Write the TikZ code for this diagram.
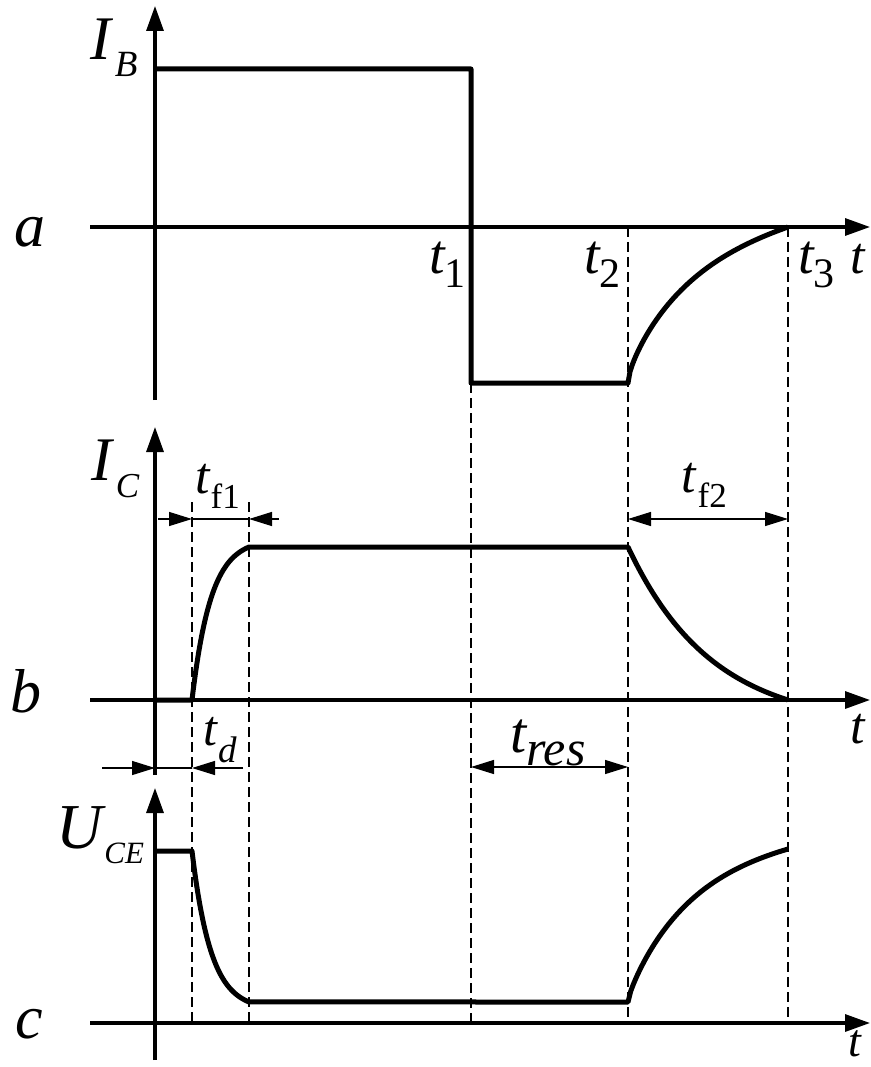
\documentclass[tikz,border=0pt]{standalone}
\usepackage{fontspec}
\setmainfont{Liberation Serif}
\usetikzlibrary{arrows.meta}
\newcommand\mysz[1]{\fontsize{#1}{#1}\selectfont}
\begin{document}
\begin{tikzpicture}[x=1pt,y=-1pt,
  axisline/.style={line width=3.2pt,-{Triangle[length=25pt,width=17pt]}},
  curve/.style={line width=5pt,line join=round},
  guide/.style={line width=1.1pt,dash pattern=on 10pt off 5pt},
  dimline/.style={line width=1.3pt},
  dimarrow/.style={line width=1.3pt,-{Triangle[length=23pt,width=14pt]}},
  dimboth/.style={line width=1.3pt,{Triangle[length=23pt,width=14pt]}-{Triangle[length=23pt,width=14pt]}},
  lbl/.style={inner sep=0pt,anchor=base west}]
\useasboundingbox (0,0) rectangle (870,1067);

% ---------- coordinates ----------
\coordinate (aL) at (90,227);  \coordinate (aR) at (870,227);
\coordinate (bL) at (90,700);  \coordinate (bR) at (870,700);
\coordinate (cL) at (90,1023); \coordinate (cR) at (870,1023);
\coordinate (aB) at (155,400); \coordinate (aT) at (155,6);
\coordinate (bB) at (155,775); \coordinate (bT) at (155,427);
\coordinate (cB) at (155,1060); \coordinate (cT) at (155,788);

% ---------- guide lines ----------
\coordinate (g1a) at (471,383);  \coordinate (g1b) at (471,1023);
\coordinate (g2a) at (628,227);  \coordinate (g2b) at (628,1023);
\coordinate (g3a) at (788,227);  \coordinate (g3b) at (788,1023);
\coordinate (gda) at (192,502);  \coordinate (gdb) at (192,1023);
\coordinate (gfa) at (249,502);  \coordinate (gfb) at (249,1023);
\draw[guide] (g1a) -- (g1b);
\draw[guide] (g2a) -- (g2b);
\draw[guide] (g3a) -- (g3b);
\draw[guide] (gda) -- (gdb);
\draw[guide] (gfa) -- (gfb);

% ---------- axes ----------
\draw[axisline] (aL) -- (aR);
\draw[axisline] (bL) -- (bR);
\draw[axisline] (cL) -- (cR);
\draw[axisline] (aB) -- (aT);
\draw[axisline] (bB) -- (bT);
\draw[axisline] (cB) -- (cT);

% ---------- waveforms ----------
\draw[curve] (155,69) -- (471,69) -- (471,383) -- (628,383)
  -- plot[domain=0:1,samples=80,variable=\u] ({628+160*\u},{383-156*(0.5*sqrt(\u)+0.5*(1-exp(-2.5*\u))/(1-exp(-2.5)))});
\draw[curve] (155,700) -- (192,700)
  -- plot[domain=0:1,samples=50,variable=\u] ({192+57*\u},{700-153*(1-exp(-3*\u))/(1-exp(-3))})
  -- (628,547)
  -- plot[domain=0:1,samples=60,variable=\u] ({628+160*\u},{547+153*(1-exp(-1.9*\u))/(1-exp(-1.9))});
\draw[curve] (155,851) -- (192,851)
  -- plot[domain=0:1,samples=50,variable=\u] ({192+57*\u},{851+151*(1-exp(-3*\u))/(1-exp(-3))})
  -- (628,1002)
  -- plot[domain=0:1,samples=60,variable=\u] ({628+160*\u},{1002-153*(0.3*sqrt(\u)+0.7*(1-exp(-2.5*\u))/(1-exp(-2.5)))});

% ---------- dimension markers ----------
\coordinate (f1L) at (158,519); \coordinate (f1a) at (192,519);
\coordinate (f1b) at (249,519); \coordinate (f1R) at (279,519);
\draw[dimarrow] (f1L) -- (f1a);
\draw[dimline] (f1a) -- (f1b);
\draw[dimarrow] (f1R) -- (f1b);

\coordinate (f2a) at (628,519); \coordinate (f2b) at (788,519);
\draw[dimboth] (f2a) -- (f2b);

\coordinate (ra) at (471,767); \coordinate (rb) at (628,767);
\draw[dimboth] (ra) -- (rb);

\coordinate (tdL) at (102,768); \coordinate (tda) at (155,768);
\coordinate (tdb) at (192,768); \coordinate (tdR) at (243,768);
\draw[dimarrow] (tdL) -- (tda);
\draw[dimline] (tda) -- (tdb);
\draw[dimarrow] (tdR) -- (tdb);

% ---------- labels ----------
\node[lbl] (lIB) at (90,60) {{\mysz{62}\itshape I}\kern4pt\raisebox{-17pt}{\mysz{37}\itshape B}};
\node[lbl] (la) at (14,247) {\mysz{62}\itshape a};
\node[lbl] (lt1) at (429,273) {{\mysz{56}\itshape t}\kern0pt\raisebox{-14pt}{\mysz{42}1}};
\node[lbl] (lt2) at (584,273) {{\mysz{56}\itshape t}\kern0pt\raisebox{-14pt}{\mysz{42}2}};
\node[lbl] (lt3) at (798,273) {{\mysz{56}\itshape t}\kern0pt\raisebox{-14pt}{\mysz{42}3}};
\node[lbl] (lta) at (850,273) {\mysz{52}\itshape t};

\node[lbl] (lIC) at (91,480) {{\mysz{62}\itshape I}\kern4pt\raisebox{-17pt}{\mysz{35}\itshape C}};
\node[lbl] (ltf1) at (195,493) {{\mysz{52}\itshape t}\kern1pt\raisebox{-15pt}{\mysz{35}f1}};
\node[lbl] (ltf2) at (681,492) {{\mysz{52}\itshape t}\kern2pt\raisebox{-15pt}{\mysz{35}f2}};
\node[lbl] (lb) at (10,712) {\mysz{62}\itshape b};
\node[lbl] (ltb) at (850,743) {\mysz{52}\itshape t};
\node[lbl] (ltd) at (203,745) {{\mysz{50}\itshape t}\kern1pt\raisebox{-17pt}{\mysz{37}\itshape d}};
\node[lbl] (ltres) at (510,752) {{\mysz{58}\itshape t}\kern0pt\raisebox{-13pt}{\mysz{50}\itshape res}};

\node[lbl] (lUCE) at (56,848) {{\mysz{64}\itshape U}\kern2pt\raisebox{-15pt}{\mysz{31}\itshape CE}};
\node[lbl] (lc) at (15,1038) {\mysz{62}\itshape c};
\node[lbl] (ltc) at (848,1056) {\mysz{46}\itshape t};
\end{tikzpicture}
\end{document}
